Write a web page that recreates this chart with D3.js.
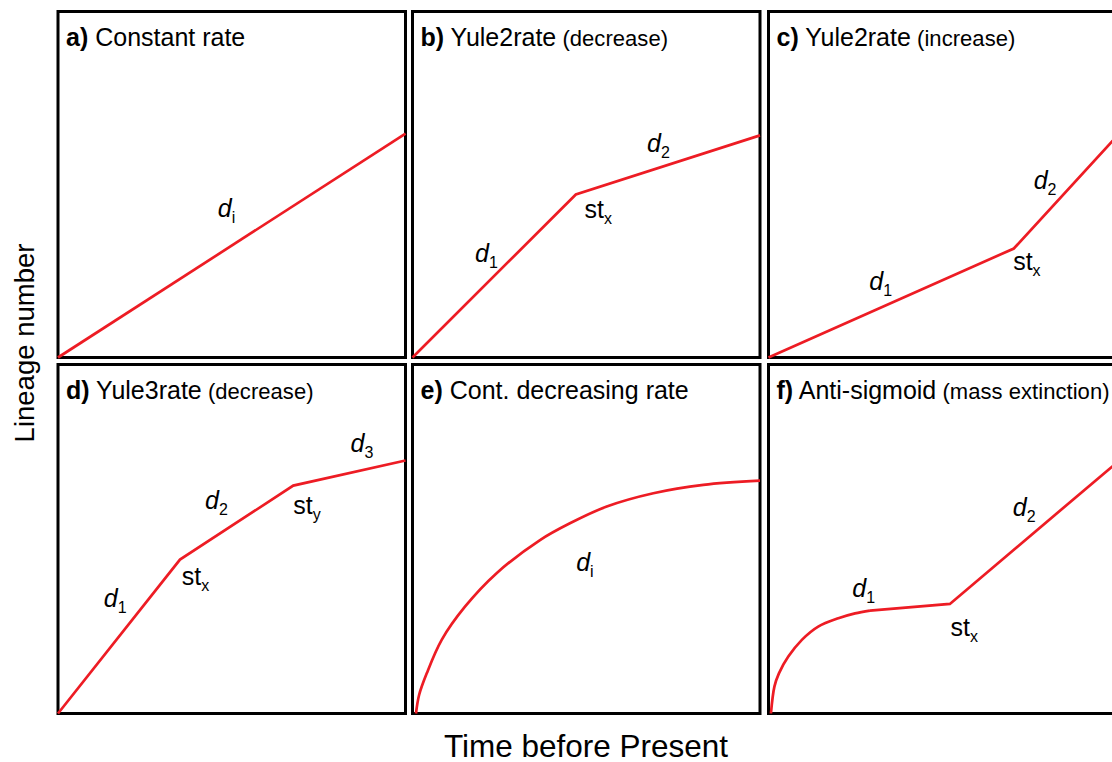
<!DOCTYPE html>
<html><head><meta charset="utf-8">
<script src="https://cdn.jsdelivr.net/npm/d3@7"></script>
<style>body{margin:0;background:#fff}svg{display:block;font-family:"Liberation Sans",Arial,sans-serif}</style>
</head><body><svg id="c" width="1112" height="762"></svg>
<script>
// ---- data ----
const panelKeys = ["a)", "b)", "c)", "d)", "e)", "f)"];
const panelTitles = ["Constant rate", "Yule2rate", "Yule2rate", "Yule3rate", "Cont. decreasing rate", "Anti-sigmoid"];
const panelSubtitles = ["", "(decrease)", "(increase)", "(decrease)", "", "(mass extinction)"];
// time (0-100) vs lineage number (0-100), per panel
const seriesA = [[0,0],[100,64.7]];
const seriesB = [[0,0],[47,47.1],[100,64.2]];
const seriesC = [[0,0],[70.6,31.5],[100,63.7]];
const seriesD = [[0,0],[35.1,44.1],[67.7,65.3],[100,72.5]];
const seriesE = [[1,0],[1.9,5.3],[4.1,11.5],[8.4,21.1],[15.1,30.6],[24.2,40.2],[36.7,49.7],[45.3,54.5],[55.9,59.3],[69.3,63.1],[83.7,65.5],[100,66.7]];
const seriesFcurve = [[0.7,0],[1.7,7.7],[3.0,11.5],[5.7,16.3],[9.6,21.1],[14.3,24.9],[20.1,27.3],[24.9,28.7],[29.2,29.5]];
const seriesFline = [[29.2,29.5],[52.2,31.4],[100,71.7]];
// annotation labels: [main, subscript, italic, time, lineage]
const labelsA = [["d","i",true,46,40.6]];
const labelsB = [["d","1",true,18,27.7],["st","x",false,49.5,40.2],["d","2",true,67.5,59.5]];
const labelsC = [["d","1",true,29,19.6],["st","x",false,70.4,25.4],["d","2",true,76.3,48.8]];
const labelsD = [["d","1",true,13.2,30.4],["st","x",false,35.6,36.7],["d","2",true,42.3,58.5],["st","y",false,67.7,57.3],["d","3",true,84.2,75]];
const labelsE = [["d","i",true,47.1,40.7]];
const labelsF = [["d","1",true,24.1,33.5],["st","x",false,52.4,22.3],["d","2",true,70.3,56.6]];
const xTitle = "Time before Present";
const yTitle = "Lineage number";

// ---- layout ----
const colLeft = [58, 412.5, 768.5];
const panelW = 347.5;
const rowTop = [11.5, 364.5];
const rowBottom = [357.5, 713.5];
const red = "#ed1c24";

const svg = d3.select("#c");
const panelsData = [
  {lines:[[seriesA,d3.curveLinear]], labels:labelsA},
  {lines:[[seriesB,d3.curveLinear]], labels:labelsB},
  {lines:[[seriesC,d3.curveLinear]], labels:labelsC},
  {lines:[[seriesD,d3.curveLinear]], labels:labelsD},
  {lines:[[seriesE,d3.curveCatmullRom.alpha(0.5)]], labels:labelsE},
  {lines:[[seriesFcurve,d3.curveCatmullRom.alpha(0.5)],[seriesFline,d3.curveLinear]], labels:labelsF}
];

panelsData.forEach((p,i)=>{
  const col = i%3, row = Math.floor(i/3);
  const x = d3.scaleLinear([0,100],[colLeft[col], colLeft[col]+panelW]);
  const y = d3.scaleLinear([0,100],[rowBottom[row], rowTop[row]]);
  const g = svg.append("g");
  g.append("rect").attr("x",x(0)).attr("y",y(100)).attr("width",x(100)-x(0)).attr("height",y(0)-y(100))
    .attr("fill","none").attr("stroke","#000").attr("stroke-width",3);
  p.lines.forEach(([s,curve])=>{
    g.append("path").attr("d", d3.line().x(d=>x(d[0])).y(d=>y(d[1])).curve(curve)(s))
      .attr("fill","none").attr("stroke",red).attr("stroke-width",2.7).attr("stroke-linejoin","miter");
  });
  const t = g.append("text").attr("x",x(0)+8).attr("y",y(100)+34).attr("font-size",25).attr("fill","#000");
  t.append("tspan").attr("font-weight","bold").text(panelKeys[i]);
  t.append("tspan").text(" "+panelTitles[i]);
  if(panelSubtitles[i]) t.append("tspan").attr("font-size",22).attr("letter-spacing",0.05).text(" "+panelSubtitles[i]);
  p.labels.forEach(([m,sub,it,tx,ly])=>{
    const lt = g.append("text").attr("x",x(tx)).attr("y",y(ly)).attr("font-size",25).attr("fill","#000");
    lt.append("tspan").attr("font-style",it?"italic":"normal").text(m);
    lt.append("tspan").attr("font-size",16).attr("dy",6).text(sub);
  });
});

svg.append("text").attr("x",586).attr("y",757).attr("text-anchor","middle").attr("font-size",31.5).text(xTitle);
svg.append("text").attr("transform","translate(34,343) rotate(-90)").attr("text-anchor","middle").attr("font-size",27.5).text(yTitle);
</script></body></html>
